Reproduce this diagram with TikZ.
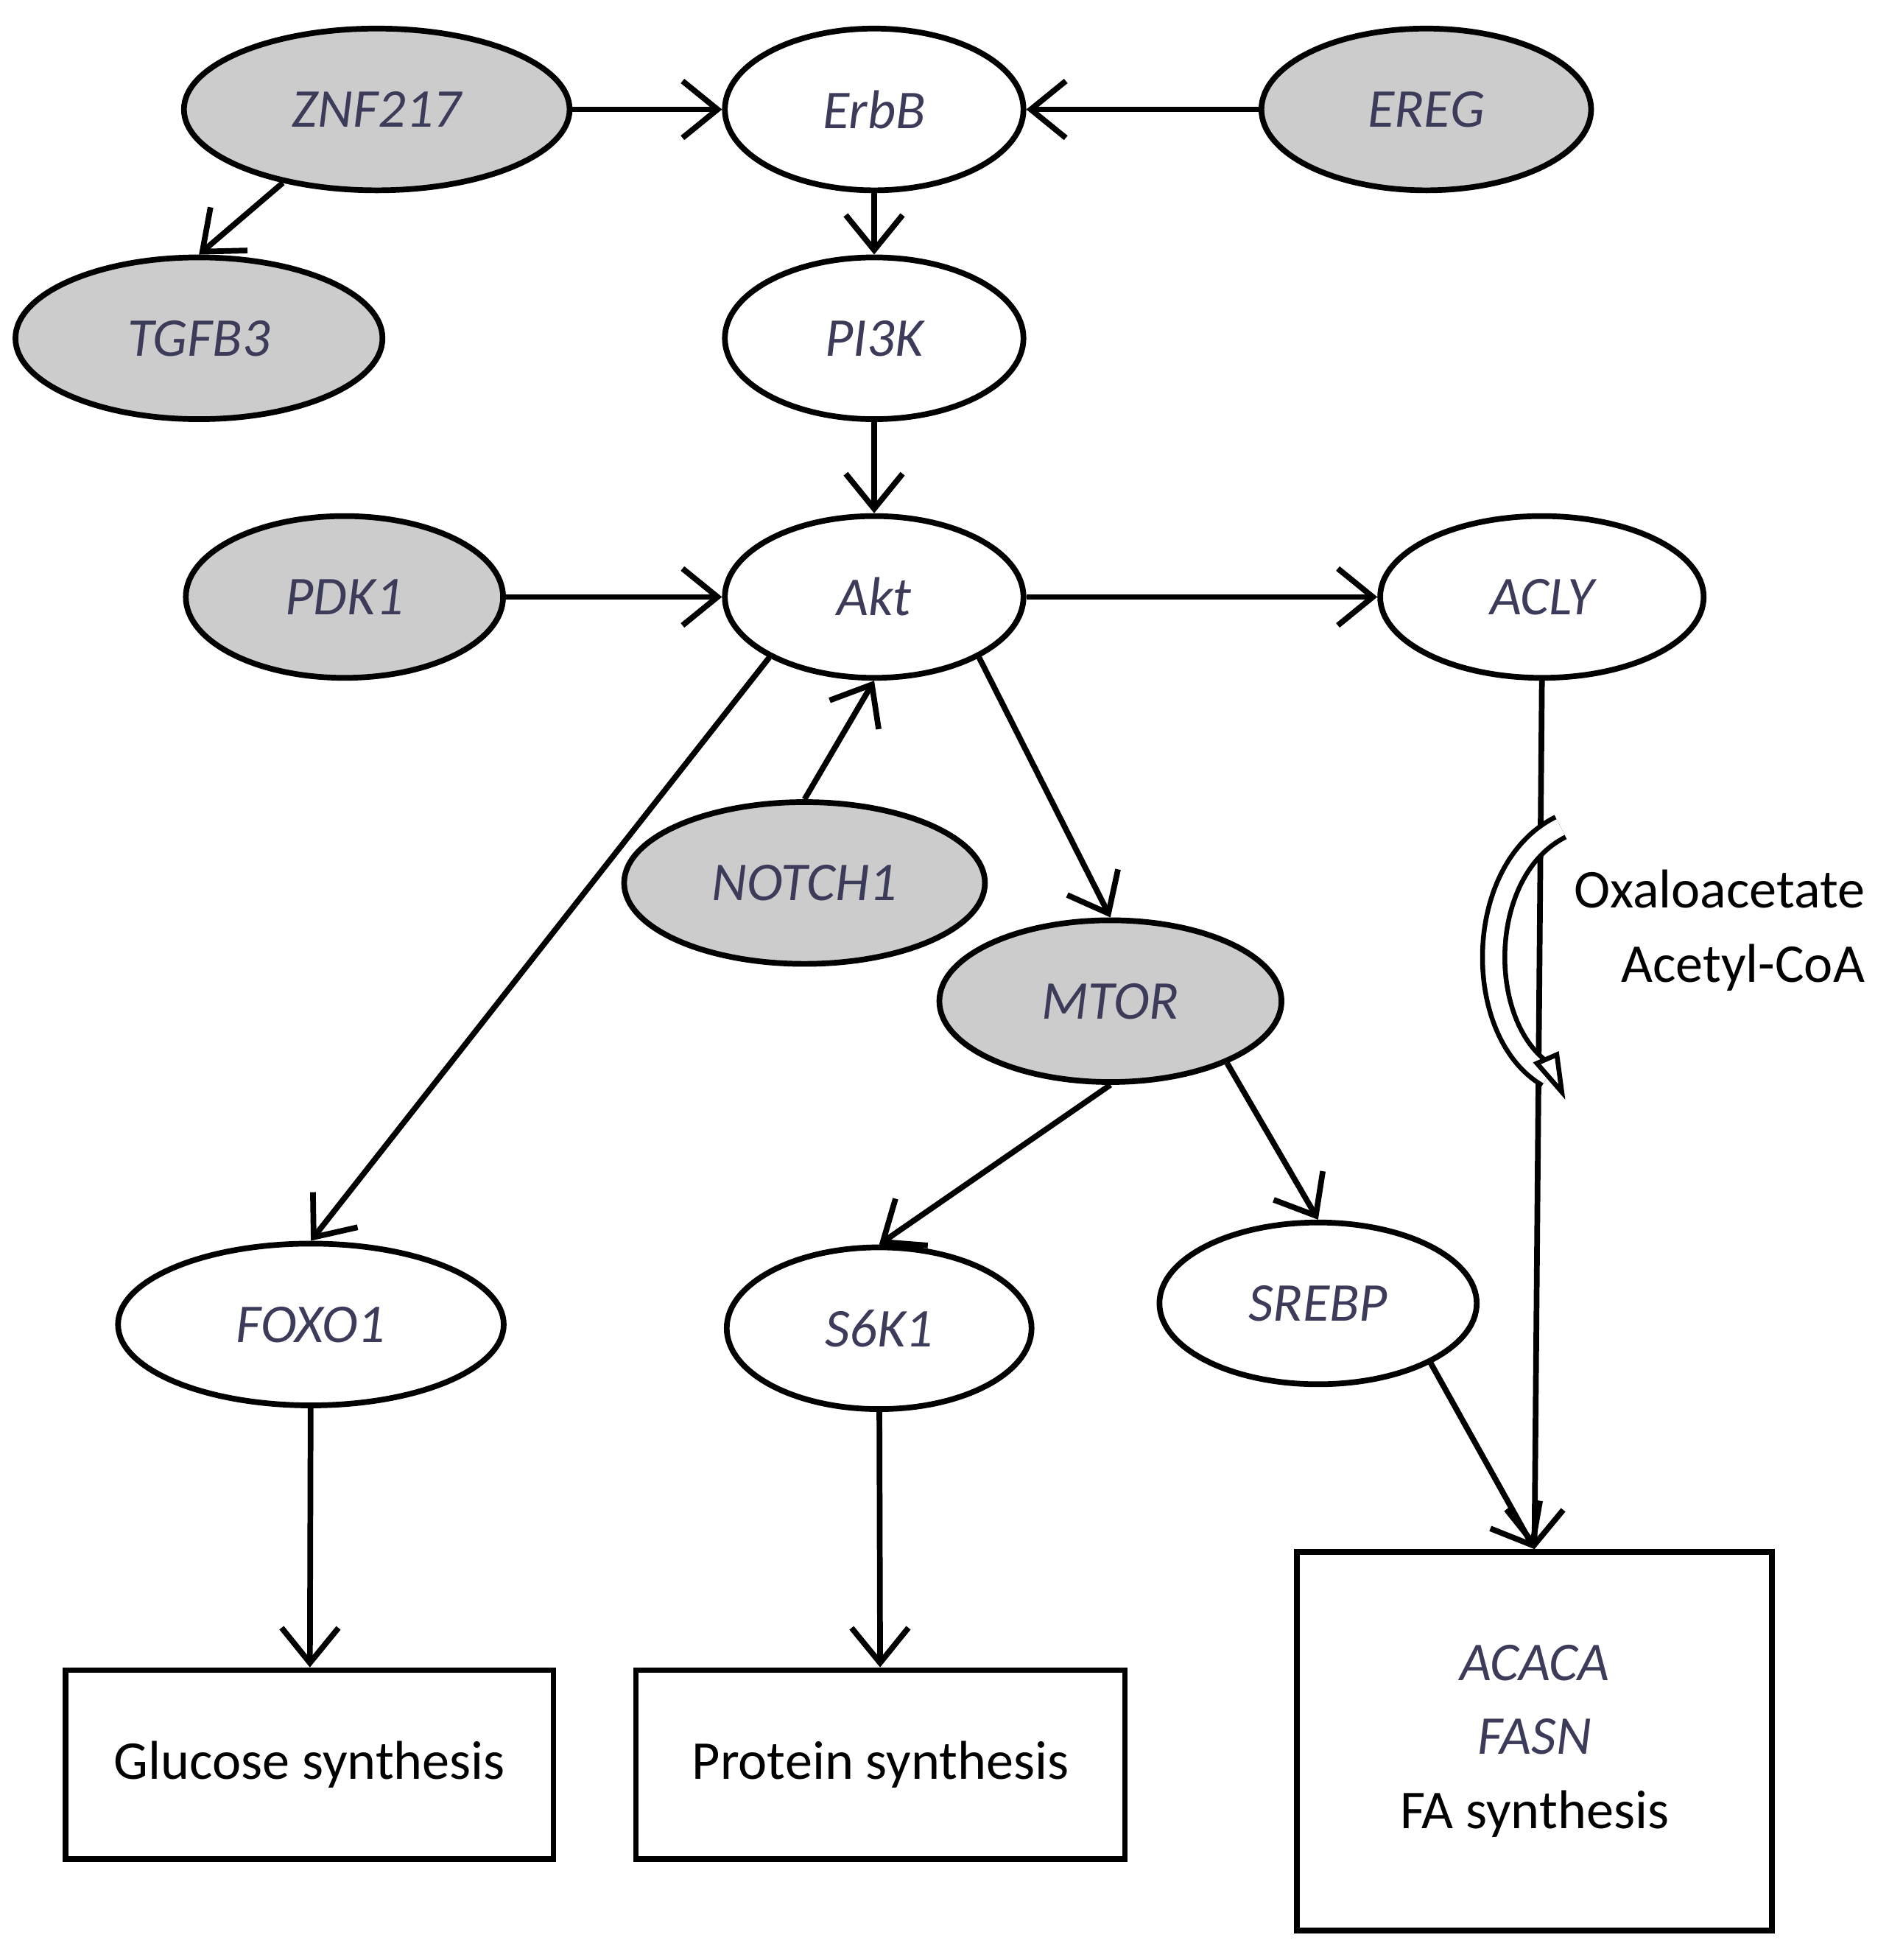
\documentclass[tikz,border=0pt]{standalone}
\usepackage{fontspec}
\setmainfont{Carlito}
\usetikzlibrary{arrows.meta,shapes.geometric}
\definecolor{tx}{RGB}{60,60,90}
\begin{document}
\begin{tikzpicture}[x=0.01cm,y=-0.01cm,
 e/.style={ellipse,draw,line width=1.3pt,minimum height=1.3cm,inner sep=0pt,font=\fontsize{12.5}{15}\selectfont\itshape,text=tx},
 g/.style={e,fill=black!20},
 bx/.style={draw,line width=1.3pt,font=\fontsize{12.5}{15}\selectfont,inner sep=0pt},
 a/.style={-{Straight Barb[length=8pt,width=13pt,line width=1.3pt]},line width=1.3pt}]
\useasboundingbox (0,0) rectangle (1530,1576);
\node[g,minimum width=3.1cm] (znf) at (303,88) {ZNF217};
\node[e,minimum width=2.4cm] (erbb) at (703,88) {ErbB};
\node[g,minimum width=2.65cm] (ereg) at (1147,88) {EREG};
\node[g,minimum width=2.95cm] (tgfb) at (160,272) {TGFB3};
\node[e,minimum width=2.4cm] (pi3k) at (703,272) {PI3K};
\node[g,minimum width=2.55cm] (pdk) at (277,480) {PDK1};
\node[e,minimum width=2.4cm] (akt) at (703,480) {Akt};
\node[e,minimum width=2.6cm] (acly) at (1240,480) {ACLY};
\node[g,minimum width=2.9cm] (notch) at (647,710) {NOTCH1};
\node[g,minimum width=2.75cm] (mtor) at (893,805) {MTOR};
\node[e,minimum width=3.1cm] (foxo) at (250,1065) {FOXO1};
\node[e,minimum width=2.45cm] (s6k) at (707,1068) {S6K1};
\node[e,minimum width=2.55cm] (srebp) at (1060,1048) {SREBP};
\node[bx,minimum width=3.92cm,minimum height=1.52cm] (glu) at (249,1419) {Glucose synthesis};
\node[bx,minimum width=3.93cm,minimum height=1.52cm] (pro) at (708,1419) {Protein synthesis};
\node[bx,minimum width=3.82cm,minimum height=3.04cm,align=center,font=\fontsize{12.5}{17}\selectfont] (fa) at (1234,1400) {\textit{\color{tx}ACACA}\\\textit{\color{tx}FASN}\\FA synthesis};
\node[font=\fontsize{12.5}{15}\selectfont,anchor=east] (oxa) at (1512,715) {Oxaloacetate};
\node[font=\fontsize{12.5}{15}\selectfont,anchor=east] (acoa) at (1512,778) {Acetyl-CoA};
\draw[a] (znf) -- (erbb);
\draw[a] (ereg) -- (erbb);
\draw[a] (znf.218) -- (tgfb.north);
\draw[a] (erbb) -- (pi3k);
\draw[a] (pi3k) -- (akt);
\draw[a] (pdk) -- (akt);
\draw[a] (akt) -- (acly);
\draw[a] (notch.north) -- (akt.south);
\draw[a] (akt.210) -- (foxo.north);
\draw[a] (akt.-30) -- (mtor.north);
\draw[a] (mtor.south) -- (s6k.north);
\draw[a] (mtor.-28) -- (srebp.north);
\draw[a] (srebp.-28) -- (fa.north);
\draw[a] (acly.south) -- (fa.north);
\draw[a] (foxo) -- (glu);
\draw[a] (s6k) -- (pro);
\draw[line width=1.1pt,double=white,double distance=4pt]
 (1255,665) .. controls (1185,700) and (1185,830) .. (1245,865);
\draw[line width=1.1pt,fill=white] (1236,855) -- (1256,878) -- (1252,848) -- cycle;
\end{tikzpicture}
\end{document}
